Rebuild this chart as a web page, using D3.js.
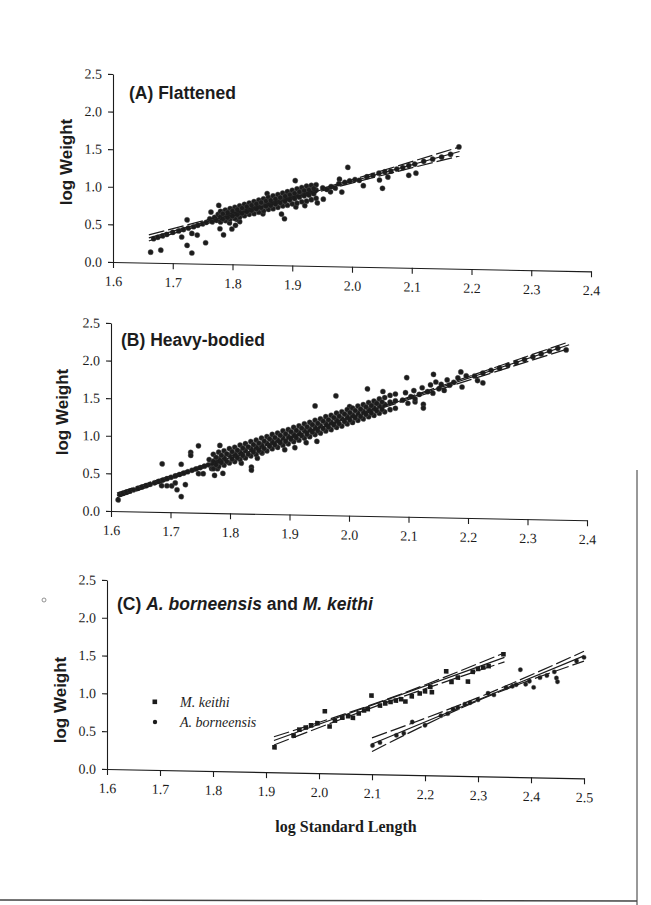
<!DOCTYPE html>
<html>
<head>
<meta charset="utf-8">
<script src="https://cdn.jsdelivr.net/npm/d3@7/dist/d3.min.js"></script>
<style>
  body { margin: 0; background: #fff; }
  svg { display: block; }
</style>
</head>
<body>
<svg width="651" height="905"></svg>
<script>

// tick values
var yTicks = [0, 0.5, 1.0, 1.5, 2.0, 2.5];
var xTicksAB = [1.6, 1.7, 1.8, 1.9, 2.0, 2.1, 2.2, 2.3, 2.4];
var xTicksC = [1.6, 1.7, 1.8, 1.9, 2.0, 2.1, 2.2, 2.3, 2.4, 2.5];

// (A) Flattened : [log SL, log W]
var flattened = [
    [1.663, 0.14], [1.680, 0.17], [1.715, 0.35], [1.724, 0.24], [1.724, 0.58], [1.732, 0.14], [1.732, 0.40],
    [1.741, 0.38], [1.755, 0.28], [1.764, 0.69], [1.777, 0.78], [1.779, 0.47], [1.785, 0.39], [1.799, 0.47],
    [1.795, 0.55], [1.805, 0.52], [1.812, 0.57], [1.851, 0.68], [1.858, 0.95], [1.882, 0.68], [1.887, 0.62],
    [1.905, 1.13], [1.952, 0.89], [1.964, 0.99], [1.979, 1.16], [1.993, 1.32], [1.983, 0.99], [2.019, 1.08],
    [2.046, 1.16], [2.051, 1.05], [2.060, 1.20], [2.095, 1.23], [2.107, 1.26], [2.179, 1.62],
    [1.668, 0.32], [1.675, 0.34], [1.683, 0.36], [1.690, 0.38], [1.700, 0.41], [1.710, 0.43], [1.718, 0.45],
    [1.726, 0.47], [1.735, 0.49], [1.742, 0.51], [1.750, 0.53], [1.756, 0.55],
    [1.762, 0.60], [1.766, 0.56], [1.770, 0.62], [1.773, 0.58], [1.776, 0.66], [1.783, 0.63],
    [1.786, 0.70], [1.789, 0.59], [1.801, 0.72], [1.807, 0.60], [1.813, 0.75], [1.822, 0.78],
    [1.834, 0.79], [1.846, 0.82], [1.855, 0.80], [1.864, 0.84], [1.873, 0.87], [1.891, 0.93],
    [1.900, 0.96], [1.906, 0.78], [1.915, 1.00], [1.921, 0.80], [1.927, 1.03], [1.936, 1.05], [1.942, 0.84],
    [1.951, 1.04], [1.958, 1.02], [1.965, 1.06], [1.972, 1.04], [1.978, 1.10], [1.988, 1.12], [1.996, 1.14],
    [2.005, 1.16], [2.012, 1.15], [2.025, 1.20], [2.035, 1.22], [2.045, 1.25], [2.055, 1.27], [2.065, 1.28],
    [2.075, 1.31], [2.085, 1.33], [2.095, 1.36], [2.105, 1.38], [2.120, 1.42], [2.135, 1.45], [2.150, 1.48],
    [2.165, 1.52],
    // dense band
    [1.780, 0.56], [1.780, 0.63], [1.780, 0.70], [1.788, 0.58], [1.788, 0.65], [1.788, 0.72],
    [1.796, 0.60], [1.796, 0.67], [1.796, 0.74], [1.804, 0.61], [1.804, 0.69], [1.804, 0.76],
    [1.812, 0.63], [1.812, 0.70], [1.812, 0.78], [1.820, 0.65], [1.820, 0.72], [1.820, 0.80],
    [1.828, 0.67], [1.828, 0.74], [1.828, 0.82], [1.836, 0.68], [1.836, 0.76], [1.836, 0.84],
    [1.844, 0.70], [1.844, 0.78], [1.844, 0.86], [1.852, 0.72], [1.852, 0.80], [1.852, 0.88],
    [1.860, 0.74], [1.860, 0.82], [1.860, 0.90], [1.868, 0.75], [1.868, 0.84], [1.868, 0.92],
    [1.876, 0.77], [1.876, 0.86], [1.876, 0.94], [1.884, 0.79], [1.884, 0.88], [1.884, 0.96],
    [1.892, 0.80], [1.892, 0.90], [1.892, 0.98], [1.900, 0.82], [1.900, 0.92], [1.900, 1.00],
    [1.908, 0.83], [1.908, 0.94], [1.908, 1.02], [1.916, 0.85], [1.916, 0.95], [1.916, 1.04],
    [1.924, 0.86], [1.924, 0.97], [1.924, 1.06], [1.932, 0.88], [1.932, 0.99], [1.932, 1.07],
    [1.940, 0.90], [1.940, 1.01], [1.940, 1.08],
    [1.784, 0.60], [1.784, 0.67], [1.792, 0.62], [1.792, 0.69], [1.800, 0.64], [1.800, 0.71],
    [1.808, 0.66], [1.808, 0.73], [1.816, 0.68], [1.816, 0.75], [1.824, 0.70], [1.824, 0.77],
    [1.832, 0.72], [1.832, 0.79], [1.840, 0.74], [1.840, 0.81], [1.848, 0.76], [1.848, 0.83],
    [1.856, 0.78], [1.856, 0.85], [1.864, 0.79], [1.864, 0.86], [1.872, 0.81], [1.872, 0.88],
    [1.880, 0.83], [1.880, 0.90], [1.888, 0.85], [1.888, 0.92], [1.896, 0.87], [1.896, 0.94],
    [1.904, 0.89], [1.904, 0.96], [1.912, 0.91], [1.912, 0.98], [1.920, 0.93], [1.920, 1.00],
    [1.928, 0.94], [1.928, 1.01], [1.936, 0.96], [1.936, 1.03]
];
var flattenedFit = [[1.66, 0.33], [2.18, 1.56]];
var flattenedUpper = [[1.66, 0.37], [1.92, 0.96], [2.18, 1.62]];
var flattenedLower = [[1.66, 0.29], [1.92, 0.93], [2.18, 1.50]];

// (B) Heavy-bodied
var heavy = [
    [1.612, 0.15], [1.615, 0.224], [1.620, 0.238], [1.626, 0.255], [1.632, 0.271], [1.638, 0.288], [1.645, 0.308],
    [1.652, 0.327], [1.659, 0.347], [1.666, 0.366], [1.673, 0.386], [1.680, 0.405], [1.687, 0.425], [1.694, 0.444],
    [1.701, 0.464], [1.708, 0.483], [1.715, 0.503], [1.722, 0.522], [1.729, 0.542], [1.736, 0.562], [1.743, 0.581],
    [1.750, 0.601], [1.757, 0.620], [1.764, 0.640], [1.771, 0.659], [1.778, 0.679],
    [1.685, 0.35], [1.694, 0.35], [1.702, 0.35], [1.708, 0.39], [1.711, 0.30], [1.718, 0.21], [1.725, 0.37],
    [1.686, 0.64], [1.718, 0.64], [1.734, 0.80], [1.734, 0.76], [1.747, 0.89], [1.747, 0.52], [1.755, 0.52],
    [1.774, 0.50], [1.783, 0.90], [1.788, 0.53], [1.779, 0.59], [1.765, 0.71], [1.769, 0.59],
    [1.819, 0.67], [1.836, 0.62], [1.836, 0.58], [1.854, 0.81], [1.846, 0.74],
    [1.892, 0.86], [1.909, 0.89], [1.928, 0.96], [1.943, 1.45], [1.946, 0.98],
    [1.978, 1.59], [2.001, 1.45], [2.031, 1.69], [2.043, 1.51], [2.057, 1.66],
    [2.090, 1.55], [2.095, 1.65], [2.099, 1.51], [2.104, 1.60], [2.109, 1.68], [2.111, 1.53], [2.118, 1.63],
    [2.123, 1.72], [2.125, 1.50], [2.132, 1.67], [2.137, 1.76], [2.141, 1.65], [2.146, 1.80], [2.151, 1.71],
    [2.155, 1.77], [2.160, 1.69], [2.165, 1.83], [2.169, 1.76], [2.176, 1.80], [2.183, 1.86], [2.190, 1.74],
    [2.197, 1.89], [2.097, 1.85], [2.142, 1.90], [2.111, 1.57], [2.125, 1.45],
    [2.211, 1.89], [2.225, 1.93], [2.239, 1.97], [2.253, 2.00], [2.267, 2.04], [2.281, 2.08], [2.295, 2.12],
    [2.309, 2.16], [2.323, 2.20], [2.337, 2.24], [2.351, 2.28], [2.365, 2.26], [2.216, 1.83], [2.188, 1.94],
    [2.225, 1.80],
    // dense band
    [1.772, 0.59], [1.772, 0.69], [1.772, 0.78], [1.781, 0.62], [1.781, 0.72], [1.781, 0.81],
    [1.790, 0.64], [1.790, 0.74], [1.790, 0.83], [1.799, 0.67], [1.799, 0.77], [1.799, 0.86],
    [1.808, 0.69], [1.808, 0.79], [1.808, 0.88], [1.817, 0.72], [1.817, 0.82], [1.817, 0.91],
    [1.826, 0.74], [1.826, 0.84], [1.826, 0.93], [1.835, 0.77], [1.835, 0.87], [1.835, 0.96],
    [1.844, 0.79], [1.844, 0.89], [1.844, 0.98], [1.853, 0.82], [1.853, 0.92], [1.853, 1.01],
    [1.862, 0.84], [1.862, 0.94], [1.862, 1.03], [1.871, 0.87], [1.871, 0.97], [1.871, 1.06],
    [1.880, 0.89], [1.880, 0.99], [1.880, 1.08], [1.889, 0.92], [1.889, 1.02], [1.889, 1.11],
    [1.898, 0.94], [1.898, 1.04], [1.898, 1.13], [1.907, 0.97], [1.907, 1.07], [1.907, 1.16],
    [1.916, 0.99], [1.916, 1.09], [1.916, 1.18], [1.925, 1.02], [1.925, 1.12], [1.925, 1.21],
    [1.934, 1.04], [1.934, 1.14], [1.934, 1.23], [1.943, 1.07], [1.943, 1.17], [1.943, 1.26],
    [1.952, 1.09], [1.952, 1.19], [1.952, 1.28], [1.961, 1.12], [1.961, 1.22], [1.961, 1.31],
    [1.970, 1.14], [1.970, 1.24], [1.970, 1.33], [1.979, 1.17], [1.979, 1.27], [1.979, 1.36],
    [1.988, 1.19], [1.988, 1.29], [1.988, 1.38], [1.997, 1.22], [1.997, 1.32], [1.997, 1.41],
    [2.006, 1.24], [2.006, 1.34], [2.006, 1.43], [2.015, 1.27], [2.015, 1.37], [2.015, 1.46],
    [2.024, 1.29], [2.024, 1.39], [2.024, 1.48], [2.033, 1.32], [2.033, 1.42], [2.033, 1.51],
    [2.042, 1.34], [2.042, 1.44], [2.042, 1.53], [2.051, 1.37], [2.051, 1.47], [2.051, 1.56],
    [2.060, 1.39], [2.060, 1.49], [2.060, 1.58], [2.069, 1.42], [2.069, 1.52], [2.069, 1.61],
    [2.078, 1.44], [2.078, 1.54], [2.078, 1.63],
    [1.7765, 0.64], [1.7765, 0.74], [1.7855, 0.67], [1.7855, 0.77], [1.7945, 0.69], [1.7945, 0.79],
    [1.8035, 0.72], [1.8035, 0.82], [1.8125, 0.74], [1.8125, 0.84], [1.8215, 0.77], [1.8215, 0.87],
    [1.8305, 0.79], [1.8305, 0.89], [1.8395, 0.82], [1.8395, 0.92], [1.8485, 0.84], [1.8485, 0.94],
    [1.8575, 0.87], [1.8575, 0.97], [1.8665, 0.90], [1.8665, 1.00], [1.8755, 0.92], [1.8755, 1.02],
    [1.8845, 0.95], [1.8845, 1.05], [1.8935, 0.97], [1.8935, 1.07], [1.9025, 1.00], [1.9025, 1.10],
    [1.9115, 1.02], [1.9115, 1.12], [1.9205, 1.05], [1.9205, 1.15], [1.9295, 1.07], [1.9295, 1.17],
    [1.9385, 1.10], [1.9385, 1.20], [1.9475, 1.12], [1.9475, 1.22], [1.9565, 1.15], [1.9565, 1.25],
    [1.9655, 1.17], [1.9655, 1.27], [1.9745, 1.20], [1.9745, 1.30], [1.9835, 1.22], [1.9835, 1.32],
    [1.9925, 1.25], [1.9925, 1.35], [2.0015, 1.27], [2.0015, 1.37], [2.0105, 1.30], [2.0105, 1.40],
    [2.0195, 1.32], [2.0195, 1.42], [2.0285, 1.35], [2.0285, 1.45], [2.0375, 1.37], [2.0375, 1.47],
    [2.0465, 1.40], [2.0465, 1.50], [2.0555, 1.42], [2.0555, 1.52]
];
var heavyFit = [[1.61, 0.21], [2.37, 2.33]];
var heavyUpper = [[1.61, 0.24], [1.99, 1.28], [2.37, 2.37]];
var heavyLower = [[1.61, 0.18], [1.99, 1.26], [2.37, 2.28]];

// (C) two species
var keithi = [
    [1.916, 0.33], [1.952, 0.49], [1.963, 0.57], [1.975, 0.60], [1.985, 0.63], [1.997, 0.66], [2.011, 0.82],
    [2.020, 0.62], [2.030, 0.70], [2.044, 0.74], [2.055, 0.76], [2.064, 0.74], [2.075, 0.80], [2.085, 0.84],
    [2.092, 0.86], [2.099, 1.04], [2.115, 0.91], [2.125, 0.94], [2.135, 0.96], [2.145, 0.98], [2.155, 1.00],
    [2.163, 0.97], [2.175, 1.04], [2.190, 1.08], [2.200, 1.11], [2.210, 1.17], [2.213, 1.10], [2.240, 1.38],
    [2.250, 1.24], [2.262, 1.30], [2.281, 1.25], [2.290, 1.38], [2.300, 1.42], [2.310, 1.44], [2.320, 1.46],
    [2.348, 1.62]
];
var keithiFit = [[1.915, 0.42], [2.35, 1.58]];
var keithiUpper = [[1.915, 0.47], [2.13, 1.00], [2.35, 1.64]];
var keithiLower = [[1.915, 0.36], [2.13, 0.96], [2.35, 1.52]];

var borneensis = [
    [2.101, 0.38], [2.115, 0.42], [2.146, 0.52], [2.160, 0.55], [2.176, 0.70], [2.200, 0.66], [2.230, 0.79],
    [2.243, 0.82], [2.253, 0.88], [2.262, 0.90], [2.275, 0.95], [2.285, 0.97], [2.300, 1.01], [2.319, 1.10],
    [2.330, 1.08], [2.353, 1.18], [2.365, 1.20], [2.372, 1.22], [2.380, 1.42], [2.390, 1.23], [2.397, 1.27],
    [2.405, 1.19], [2.417, 1.32], [2.430, 1.35], [2.444, 1.40], [2.448, 1.32], [2.450, 1.27], [2.486, 1.55],
    [2.500, 1.60]
];
var borneensisFit = [[2.10, 0.40], [2.50, 1.62]];
var borneensisUpper = [[2.10, 0.48], [2.30, 1.04], [2.50, 1.68]];
var borneensisLower = [[2.10, 0.30], [2.30, 1.00], [2.50, 1.55]];


var svg = d3.select("svg");
var ink = "#1c1c1c";
var tilt = 1.12; // the scanned page is slightly sheared

svg.append("rect").attr("width", 651).attr("height", 905).attr("fill", "#fff");

function drawPanel(p) {
    var g = svg.append("g")
        .attr("transform", "translate(" + p.left + ",0) skewY(" + tilt + ")");

    var x = d3.scaleLinear().domain(p.xDomain).range([0, p.right - p.left]),
        y = d3.scaleLinear().domain([0, 2.5]).range([p.y0, p.yTop]);

    var xAxis = g.append("g")
        .attr("transform", "translate(0," + p.y0 + ")")
        .call(d3.axisBottom(x).tickValues(p.xTicks).tickFormat(d3.format(".1f"))
            .tickSize(6).tickSizeOuter(0).tickPadding(8));

    var yAxis = g.append("g")
        .call(d3.axisLeft(y).tickValues(yTicks).tickFormat(d3.format(".1f"))
            .tickSize(5).tickSizeOuter(0).tickPadding(6));

    [xAxis, yAxis].forEach(function(a) {
        a.selectAll("path, line").attr("stroke", ink).attr("stroke-width", 1.1);
        a.selectAll("text")
            .attr("fill", ink)
            .style("font-family", "'Liberation Serif', 'Times New Roman', serif")
            .style("font-size", "14px");
    });

    var line = d3.line()
        .x(function(d) { return x(d[0]); })
        .y(function(d) { return y(d[1]); })
        .curve(d3.curveNatural);

    p.groups.forEach(function(s) {
        if (s.shape === "square") {
            g.selectAll(null).data(s.points).enter().append("rect")
                .attr("x", function(d) { return x(d[0]) - 2.3; })
                .attr("y", function(d) { return y(d[1]) - 2.3; })
                .attr("width", 4.6).attr("height", 4.6)
                .attr("fill", ink);
        } else {
            g.selectAll(null).data(s.points).enter().append("circle")
                .attr("cx", function(d) { return x(d[0]); })
                .attr("cy", function(d) { return y(d[1]); })
                .attr("r", s.r || 2.6)
                .attr("fill", ink)
                .attr("stroke", "#555")
                .attr("stroke-width", 0.4);
        }

        // confidence bands, dashed, drawn over the points
        [s.upper, s.lower].forEach(function(b) {
            g.append("path")
                .attr("d", line(b))
                .attr("fill", "none")
                .attr("stroke", ink)
                .attr("stroke-width", 1.2)
                .attr("stroke-dasharray", "16,4");
        });
        g.append("path")
            .attr("d", line(s.fit))
            .attr("fill", "none")
            .attr("stroke", ink)
            .attr("stroke-width", 1.2);
    });

    // panel title
    var t = svg.append("text")
        .attr("x", p.titleX).attr("y", p.titleY)
        .attr("fill", ink)
        .style("font-family", "'Liberation Sans', Arial, sans-serif")
        .style("font-weight", "bold")
        .style("font-size", "17.5px");
    p.title.forEach(function(part) {
        t.append("tspan").text(part[0]).style("font-style", part[1] ? "italic" : "normal");
    });

    svg.append("text")
        .attr("transform", "translate(" + p.labelX + "," + p.labelY + ") rotate(-90)")
        .attr("text-anchor", "middle")
        .attr("fill", ink)
        .style("font-family", "'Liberation Sans', Arial, sans-serif")
        .style("font-weight", "bold")
        .style("font-size", "17px")
        .text("log Weight");
}

drawPanel({
    left: 113, right: 591, y0: 262, yTop: 74,
    xDomain: [1.6, 2.4], xTicks: xTicksAB,
    title: [["(A) Flattened", false]], titleX: 129, titleY: 99,
    labelX: 72, labelY: 162,
    groups: [{ points: flattened, fit: flattenedFit, upper: flattenedUpper, lower: flattenedLower }]
});

drawPanel({
    left: 111, right: 587, y0: 511, yTop: 323,
    xDomain: [1.6, 2.4], xTicks: xTicksAB,
    title: [["(B) Heavy-bodied", false]], titleX: 121, titleY: 346,
    labelX: 68, labelY: 412,
    groups: [{ points: heavy, fit: heavyFit, upper: heavyUpper, lower: heavyLower }]
});

drawPanel({
    left: 107, right: 584, y0: 769, yTop: 580,
    xDomain: [1.6, 2.5], xTicks: xTicksC,
    title: [["(C) ", false], ["A. borneensis", true], [" and ", false], ["M. keithi", true]],
    titleX: 117, titleY: 610,
    labelX: 66, labelY: 700,
    groups: [
        { points: keithi, fit: keithiFit, upper: keithiUpper, lower: keithiLower, shape: "square" },
        { points: borneensis, fit: borneensisFit, upper: borneensisUpper, lower: borneensisLower, r: 2.2 }
    ]
});

// legend for panel C
var legend = svg.append("g");
legend.append("rect").attr("x", 152.5).attr("y", 699.5).attr("width", 4.6).attr("height", 4.6).attr("fill", ink);
legend.append("circle").attr("cx", 155).attr("cy", 722).attr("r", 2.2).attr("fill", ink);
legend.selectAll("text").data(["M. keithi", "A. borneensis"]).enter().append("text")
    .attr("x", 180)
    .attr("y", function(d, i) { return 707 + i * 20; })
    .attr("fill", ink)
    .style("font-family", "'Liberation Serif', 'Times New Roman', serif")
    .style("font-style", "italic")
    .style("font-size", "14px")
    .text(function(d) { return d; });

svg.append("text")
    .attr("x", 346).attr("y", 832)
    .attr("text-anchor", "middle")
    .attr("fill", ink)
    .style("font-family", "'Liberation Serif', 'Times New Roman', serif")
    .style("font-weight", "bold")
    .style("font-size", "16px")
    .text("log Standard Length");

// scan edges
svg.append("line").attr("x1", 637).attr("y1", 470).attr("x2", 637).attr("y2", 905)
    .attr("stroke", "#333").attr("stroke-width", 1);
svg.append("line").attr("x1", 0).attr("y1", 900).attr("x2", 637).attr("y2", 901)
    .attr("stroke", "#444").attr("stroke-width", 1.5);
svg.append("circle").attr("cx", 44).attr("cy", 600).attr("r", 2)
    .attr("fill", "none").attr("stroke", "#777").attr("stroke-width", 0.8);

</script>
</body>
</html>
